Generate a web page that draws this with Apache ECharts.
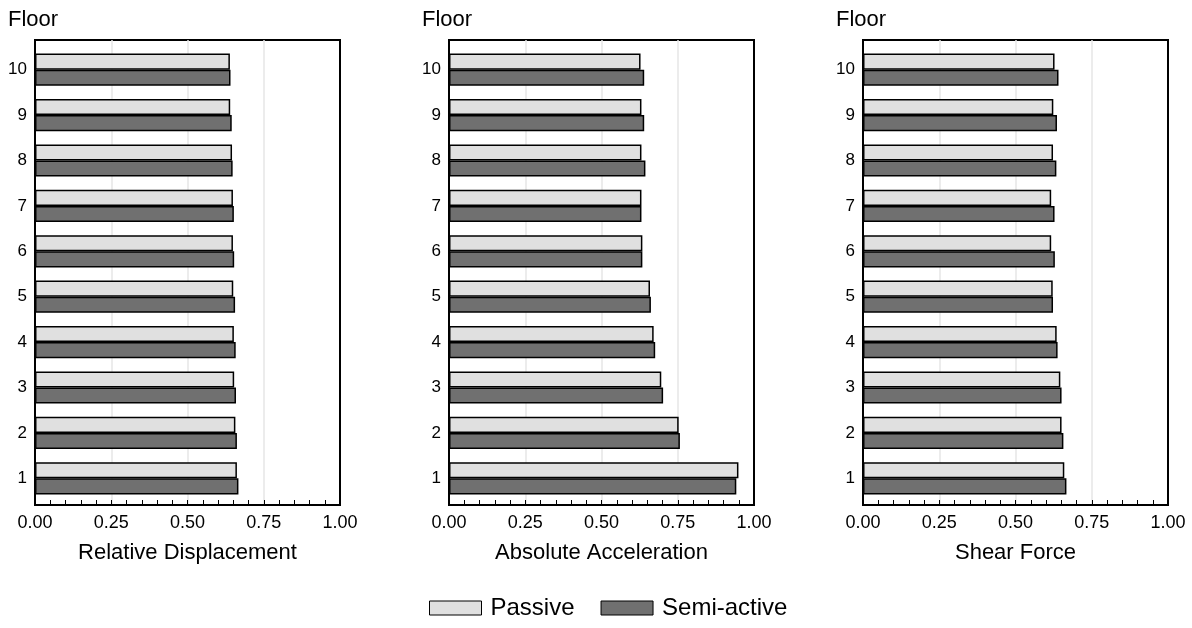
<!DOCTYPE html>
<html>
<head>
<meta charset="utf-8">
<script src="https://cdn.jsdelivr.net/npm/echarts@6/dist/echarts.min.js"></script>
<style>
html,body{margin:0;padding:0;background:#fff;}
#chart{width:1192px;height:628px;}
</style>
</head>
<body>
<div id="chart"></div>
<script>
var floors = ['1','2','3','4','5','6','7','8','9','10'];
var panelNames = ['Relative Displacement','Absolute Acceleration','Shear Force'];
var xTicks = [0, 0.25, 0.5, 0.75, 1.0];
var seriesNames = ['Passive','Semi-active'];

// values listed floor 1..10
var dispPassive = [0.662,0.657,0.653,0.652,0.650,0.649,0.649,0.646,0.640,0.639];
var dispSemi    = [0.667,0.662,0.659,0.658,0.656,0.653,0.652,0.648,0.645,0.641];
var accPassive  = [0.949,0.753,0.696,0.671,0.659,0.634,0.631,0.631,0.631,0.628];
var accSemi     = [0.942,0.757,0.702,0.676,0.662,0.634,0.631,0.644,0.640,0.640];
var shearPassive= [0.660,0.651,0.647,0.635,0.622,0.617,0.617,0.623,0.624,0.628];
var shearSemi   = [0.667,0.657,0.651,0.638,0.623,0.629,0.628,0.634,0.636,0.641];

var passiveData = [dispPassive, accPassive, shearPassive];
var semiData = [dispSemi, accSemi, shearSemi];

var FONT = 'Liberation Sans, Arial, sans-serif';
var lefts = [35, 449, 863];
var W = 305;
var grids = [], xAxes = [], yAxes = [], series = [];

for (var i = 0; i < 3; i++) {
  grids.push({left: lefts[i], width: W, top: 40, height: 465, show: true,
    borderColor: '#000', borderWidth: 2, backgroundColor: 'transparent'});
  grids.push({left: lefts[i], width: W, top: 47, height: 454, show: false});

  xAxes.push({
    type: 'value', gridIndex: 2*i, min: xTicks[0], max: xTicks[xTicks.length-1], interval: 0.25,
    name: panelNames[i], nameLocation: 'middle', nameGap: 37,
    nameTextStyle: {fontFamily: FONT, fontSize: 22, color: '#000'},
    axisLine: {show: true, lineStyle: {color: '#000', width: 2}},
    axisTick: {show: true, inside: true, length: 5, lineStyle: {color: '#000'}},
    minorTick: {show: true, splitNumber: 5, length: 5, lineStyle: {color: '#000'}},
    axisLabel: {fontFamily: FONT, fontSize: 18, color: '#000', margin: 9,
      formatter: function (v) { return v.toFixed(2); }},
    splitLine: {show: true, showMinLine: false, showMaxLine: false,
      lineStyle: {color: '#e6e6e6', width: 1.5}}
  });
  xAxes.push({
    type: 'value', gridIndex: 2*i+1, min: 0, max: 1, show: false,
    splitLine: {show: false}
  });

  yAxes.push({
    type: 'value', gridIndex: 2*i, min: 0, max: 1,
    name: 'Floor', nameLocation: 'end', nameGap: 9,
    nameTextStyle: {fontFamily: FONT, fontSize: 22, color: '#000', align: 'center', padding: [0, 4, 0, 0]},
    axisLine: {show: true, lineStyle: {color: '#000', width: 2}},
    axisTick: {show: false}, axisLabel: {show: false}, splitLine: {show: false}
  });
  yAxes.push({
    type: 'category', gridIndex: 2*i+1, data: floors,
    axisLine: {show: false}, axisTick: {show: false},
    axisLabel: {fontFamily: FONT, fontSize: 17, color: '#000', margin: 8}
  });

  series.push({
    name: seriesNames[0], type: 'bar', xAxisIndex: 2*i+1, yAxisIndex: 2*i+1,
    data: passiveData[i], barGap: '0%', barCategoryGap: '29%',
    itemStyle: {color: '#e0e0e0', borderColor: '#000', borderWidth: 1.5}
  });
  series.push({
    name: seriesNames[1], type: 'bar', xAxisIndex: 2*i+1, yAxisIndex: 2*i+1,
    data: semiData[i], barGap: '0%', barCategoryGap: '29%',
    itemStyle: {color: '#707070', borderColor: '#000', borderWidth: 1.5}
  });
}

var chart = echarts.init(document.getElementById('chart'), null, {renderer: 'canvas'});
chart.setOption({
  animation: false,
  backgroundColor: '#fff',
  grid: grids,
  xAxis: xAxes,
  yAxis: yAxes,
  legend: {
    data: [seriesNames[0], seriesNames[1]],
    top: 591, left: 424,
    icon: 'rect', itemWidth: 52, itemHeight: 14, itemGap: 26,
    textStyle: {fontFamily: FONT, fontSize: 24, color: '#000', padding: [0, 0, 0, 4]},
    itemStyle: {borderColor: '#000', borderWidth: 1}
  },
  series: series
});
</script>
</body>
</html>
